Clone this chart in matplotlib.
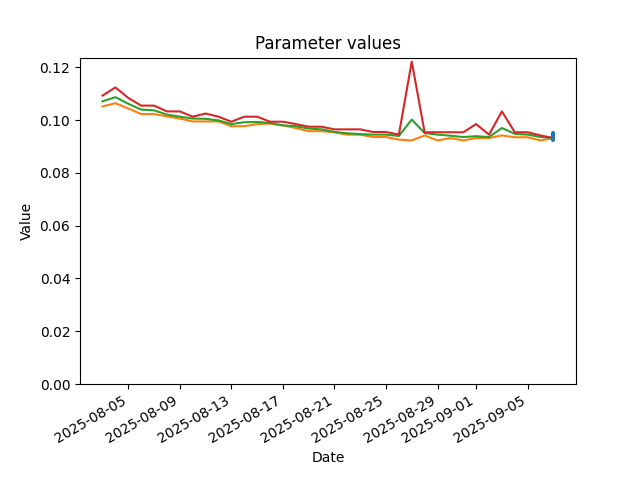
import matplotlib
matplotlib.use("Agg")
import matplotlib.pyplot as plt
import matplotlib.dates as mdates
import pandas as pd

# one value per day, 2025-08-03 .. 2025-09-07
dates = pd.date_range("2025-08-03", "2025-09-07", freq="D")

low = [0.1052, 0.1064, 0.1044, 0.1023, 0.1023, 0.1014, 0.1006, 0.0995, 0.0995,
       0.0995, 0.0977, 0.0977, 0.0985, 0.0987, 0.0980, 0.0970, 0.0958, 0.0958,
       0.0954, 0.0945, 0.0945, 0.0936, 0.0936, 0.0926, 0.0923, 0.0942, 0.0923,
       0.0932, 0.0923, 0.0932, 0.0932, 0.0942, 0.0935, 0.0935, 0.0923, 0.0932]

mid = [0.1071, 0.1087, 0.1062, 0.1040, 0.1037, 0.1021, 0.1013, 0.1006, 0.1005,
       0.0999, 0.0985, 0.0992, 0.0993, 0.0989, 0.0980, 0.0977, 0.0968, 0.0965,
       0.0955, 0.0950, 0.0947, 0.0945, 0.0945, 0.0940, 0.1002, 0.0951, 0.0945,
       0.0941, 0.0936, 0.0939, 0.0936, 0.0970, 0.0948, 0.0945, 0.0936, 0.0932]

high = [0.1093, 0.1124, 0.1084, 0.1055, 0.1055, 0.1033, 0.1033, 0.1013, 0.1025,
        0.1013, 0.0994, 0.1013, 0.1013, 0.0994, 0.0994, 0.0985, 0.0975, 0.0975,
        0.0965, 0.0965, 0.0965, 0.0955, 0.0955, 0.0945, 0.1222, 0.0954, 0.0954,
        0.0954, 0.0954, 0.0985, 0.0945, 0.1033, 0.0954, 0.0954, 0.0942, 0.0932]

# latest values, all on the last date
latest = [0.0951, 0.0937, 0.0923]

fig, ax = plt.subplots(figsize=(6.4, 4.8), dpi=100)

ax.plot(dates, low, color="C1")
ax.plot(dates, mid, color="C2")
ax.plot(dates, high, color="C3")
ax.plot([dates[-1]] * len(latest), latest, color="C0",
        linewidth=3, solid_capstyle="round", zorder=3)

ax.set_ylim(bottom=0)
ax.xaxis.set_major_locator(mdates.DayLocator(bymonthday=range(1, 32, 4)))
ax.xaxis.set_major_formatter(mdates.DateFormatter("%Y-%m-%d"))
ax.set_title("Parameter values")
ax.set_xlabel("Date")
ax.set_ylabel("Value")
fig.autofmt_xdate()

fig.savefig("out.png")
